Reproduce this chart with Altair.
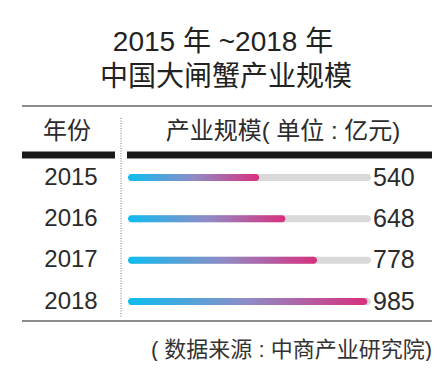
import altair as alt
import pandas as pd

years = [2015, 2016, 2017, 2018]
values = [540, 648, 778, 985]
track_max = 1000
title_lines = ["2015 年 ~2018 年", "中国大闸蟹产业规模"]
header_left = "年份"
header_right = "产业规模( 单位 : 亿元)"
source = "( 数据来源 : 中商产业研究院)"

FONT = "Liberation Sans, Noto Sans CJK SC"
TXT = "#2b2b2b"

df = pd.DataFrame({"year": years, "value": values, "zero": [0] * 4, "max": [track_max] * 4})

xs = alt.Scale(domain=[0, track_max], range=[120, 363], padding=0, nice=False, zero=False)
ys = alt.Scale(domain=[2015, 2018], range=[169.5, 293.5], padding=0, nice=False, zero=False)

base = alt.Chart(df)

track = base.mark_bar(color="#d9d9d9", size=7, cornerRadius=3.5, orient="horizontal").encode(
    x=alt.X("zero:Q", scale=xs, axis=None),
    x2="max:Q",
    y=alt.Y("year:Q", scale=ys, axis=None),
)

grad = alt.Gradient(
    gradient="linear",
    stops=[
        alt.GradientStop(color="#0dbdef", offset=0),
        alt.GradientStop(color="#8f8bc6", offset=0.5),
        alt.GradientStop(color="#d8307f", offset=1),
    ],
    x1=0, x2=1, y1=0, y2=0,
)
bars = base.mark_bar(color=grad, size=7, cornerRadius=3.5, orient="horizontal").encode(
    x=alt.X("zero:Q", scale=xs, axis=None),
    x2="value:Q",
    y=alt.Y("year:Q", scale=ys, axis=None),
)

vals = base.mark_text(align="left", baseline="middle", font=FONT, fontSize=25, color=TXT, dx=2).encode(
    x=alt.X("max:Q", scale=xs, axis=None),
    y=alt.Y("year:Q", scale=ys, axis=None),
    text="value:Q",
)

yr = base.mark_text(align="center", baseline="middle", font=FONT, fontSize=24, color=TXT).encode(
    x=alt.value(63),
    y=alt.Y("year:Q", scale=ys, axis=None),
    text=alt.Text("year:Q", format="d"),
)


def txt(s, x, y, size, align="center", color=TXT):
    return alt.Chart(pd.DataFrame({"t": [s]})).mark_text(
        align=align, baseline="middle", font=FONT, fontSize=size, color=color
    ).encode(x=alt.value(x), y=alt.value(y), text="t:N")


one = pd.DataFrame({"a": [0]})


def rule(x, x2, y, y2, color, w, dash=None):
    kw = dict(color=color, strokeWidth=w)
    if dash:
        kw["strokeDash"] = dash
    return alt.Chart(one).mark_rule(**kw).encode(
        x=alt.value(x), x2=alt.value(x2), y=alt.value(y), y2=alt.value(y2)
    )


layers = [
    txt(title_lines[0], 215, 34.5, 28, color="#222"),
    txt(title_lines[1], 218, 69.5, 28, color="#222"),
    rule(14, 425, 98, 98, "#666", 1.5),
    txt(header_left, 59, 124, 24),
    txt(header_right, 275, 124, 24),
    rule(14, 107, 147, 147, "#1a1a1a", 7),
    rule(119, 425, 147, 147, "#1a1a1a", 7),
    rule(113, 113, 110, 310, "#777", 1, [1, 1.5]),
    track,
    bars,
    vals,
    yr,
    rule(14, 425, 313, 313, "#666", 1.5),
    txt(source, 424, 342, 22, align="right", color="#333"),
]

chart = alt.layer(*layers).properties(
    width=424, height=353, autosize=alt.AutoSizeParams(type="none"), padding=0
).configure(background="white").configure_view(stroke=None)

chart.save("out.html", embed_options={"renderer": "svg", "actions": False})
